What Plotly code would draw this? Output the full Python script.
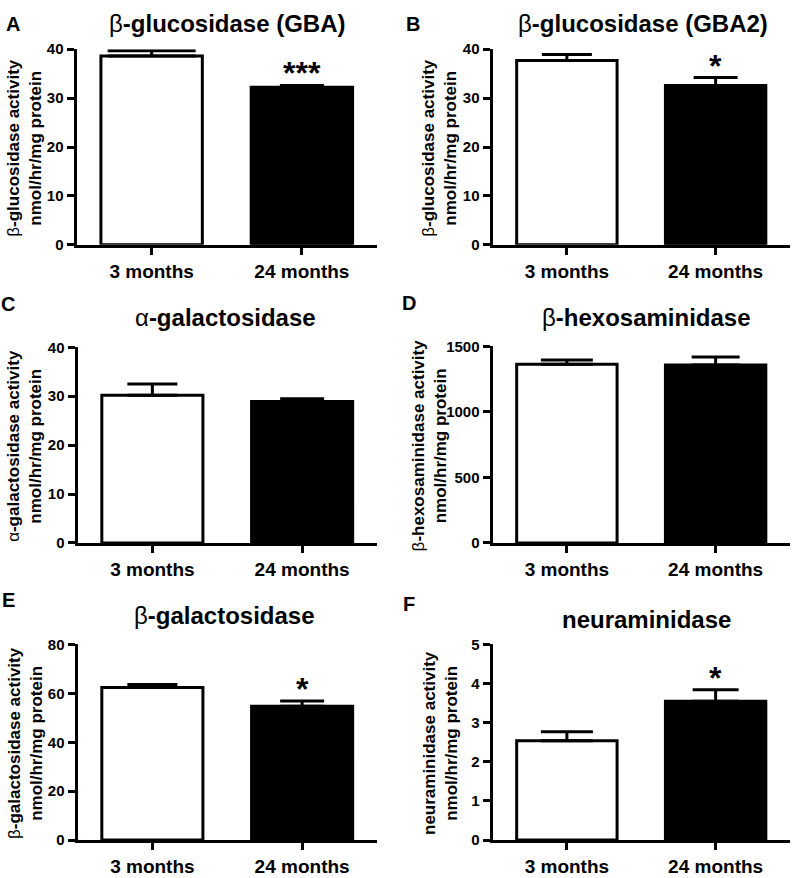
import plotly.graph_objects as go

W, H = 800, 878

categories = ["3 months", "24 months"]

panel_letters = ["A", "B", "C", "D", "E", "F"]
panel_titles = [
    "β<b>-glucosidase (GBA)</b>",
    "β<b>-glucosidase (GBA2)</b>",
    "α<b>-galactosidase</b>",
    "β<b>-hexosaminidase</b>",
    "β<b>-galactosidase</b>",
    "<b>neuraminidase</b>",
]
y_titles = [
    "β<b>-glucosidase activity</b><br><b>nmol/hr/mg protein</b>",
    "β<b>-glucosidase activity</b><br><b>nmol/hr/mg protein</b>",
    "α<b>-galactosidase activity</b><br><b>nmol/hr/mg protein</b>",
    "β<b>-hexosaminidase activity</b><br><b>nmol/hr/mg protein</b>",
    "β<b>-galactosidase activity</b><br><b>nmol/hr/mg protein</b>",
    "<b>neuraminidase activity</b><br><b>nmol/hr/mg protein</b>",
]

means_A = [38.6, 32.2]
sem_A = [1.1, 0.4]
means_B = [37.7, 32.6]
sem_B = [1.2, 1.6]
means_C = [30.2, 28.9]
sem_C = [2.3, 0.6]
means_D = [1364, 1357]
sem_D = [32, 61]
means_E = [62.4, 54.7]
sem_E = [1.2, 2.2]
means_F = [2.54, 3.55]
sem_F = [0.23, 0.29]

y_max = [40, 40, 40, 1500, 80, 5]
y_dtick = [10, 10, 10, 500, 20, 1]
stars = [["", "***"], ["", "*"], ["", ""], ["", ""], ["", "*"], ["", "*"]]

means = [means_A, means_B, means_C, means_D, means_E, means_F]
sems = [sem_A, sem_B, sem_C, sem_D, sem_E, sem_F]

# layout geometry (pixels)
boxes = [
    (75, 377, 41, 242),
    (491, 790, 41, 242),
    (76, 377, 345, 546),
    (491, 790, 344, 546),
    (76, 377, 648, 849),
    (491, 790, 648, 849),
]
cap_w = [(44, 22), (25, 22), (25, 22), (26, 24), (25, 22), (26, 23)]
letter_pos = [(13, 15), (413, 15), (8, 301), (409, 300), (8, 603), (409, 607)]
title_pos = [(228, 15), (643, 15), (226, 315), (646, 315), (224, 618), (646, 623)]
ytitle_x = [25, 440, 25, 429, 25, 440]

FONT = "Liberation Sans, Arial, sans-serif"
fills = ["white", "black"]

fig = go.Figure()
annotations = []

def fx(p):
    return p / W

def fy(p):
    return 1 - p / H

for i in range(6):
    x0, x1, y0, y1 = boxes[i]
    xa = "xaxis" if i == 0 else f"xaxis{i+1}"
    ya = "yaxis" if i == 0 else f"yaxis{i+1}"
    xr = "x" if i == 0 else f"x{i+1}"
    yr = "y" if i == 0 else f"y{i+1}"
    for j in range(2):
        fig.add_trace(go.Bar(
            x=[categories[j]], y=[means[i][j]],
            xaxis=xr, yaxis=yr,
            width=0.675,
            marker=dict(color=fills[j], line=dict(color="black", width=3)),
            error_y=dict(type="data", symmetric=False, array=[sems[i][j]],
                         arrayminus=[0], color="black", thickness=3,
                         width=cap_w[i][j]),
            showlegend=False,
        ))
        if stars[i][j]:
            annotations.append(dict(
                x=categories[j], y=means[i][j] + sems[i][j], xref=xr, yref=yr,
                text="<b>" + stars[i][j] + "</b>", showarrow=False,
                yanchor="bottom", yshift=-8,
                font=dict(family=FONT, size=32, color="black"),
            ))
    fig.layout[xa] = dict(
        domain=[fx(x0 + 1.5), fx(x1)], anchor=yr,
        type="category", categoryorder="array", categoryarray=categories,
        range=[-0.5, 1.5], showline=True, linewidth=3, linecolor="black",
        ticks="outside", ticklen=7, tickwidth=3, tickcolor="black",
        showgrid=False, zeroline=False,
        tickfont=dict(family=FONT, size=19, color="black", weight="bold"),
    )
    fig.layout[ya] = dict(
        domain=[fy(y1 - 1.5), fy(y0)], anchor=xr,
        range=[0, y_max[i]], dtick=y_dtick[i], tick0=0,
        showline=True, linewidth=3, linecolor="black",
        ticks="outside", ticklen=7, tickwidth=3, tickcolor="black",
        showgrid=False, zeroline=False,
        tickfont=dict(family=FONT, size=15, color="black", weight="bold"),
    )
    annotations.append(dict(
        x=fx(letter_pos[i][0]), y=fy(letter_pos[i][1]), xref="paper", yref="paper",
        text="<b>" + panel_letters[i] + "</b>", showarrow=False,
        xanchor="center", yanchor="middle",
        font=dict(family=FONT, size=20, color="black"),
    ))
    annotations.append(dict(
        x=fx(title_pos[i][0]), y=fy(title_pos[i][1]), xref="paper", yref="paper",
        text=panel_titles[i], showarrow=False,
        xanchor="center", yanchor="middle",
        font=dict(family=FONT, size=24, color="black"),
    ))
    annotations.append(dict(
        x=fx(ytitle_x[i]), y=fy((y0 + y1) / 2), xref="paper", yref="paper",
        text=y_titles[i], showarrow=False, textangle=-90,
        xanchor="center", yanchor="middle",
        font=dict(family=FONT, size=17, color="black"),
    ))

fig.update_layout(
    width=W, height=H,
    margin=dict(l=0, r=0, t=0, b=0),
    paper_bgcolor="white", plot_bgcolor="white",
    annotations=annotations,
    barmode="overlay",
    showlegend=False,
)

fig.write_html(
    "out.html",
    config={"displayModeBar": False},
    post_script=(
        "document.documentElement.style.margin='0';"
        "document.body.style.margin='0';document.body.style.padding='0';"
    ),
)
